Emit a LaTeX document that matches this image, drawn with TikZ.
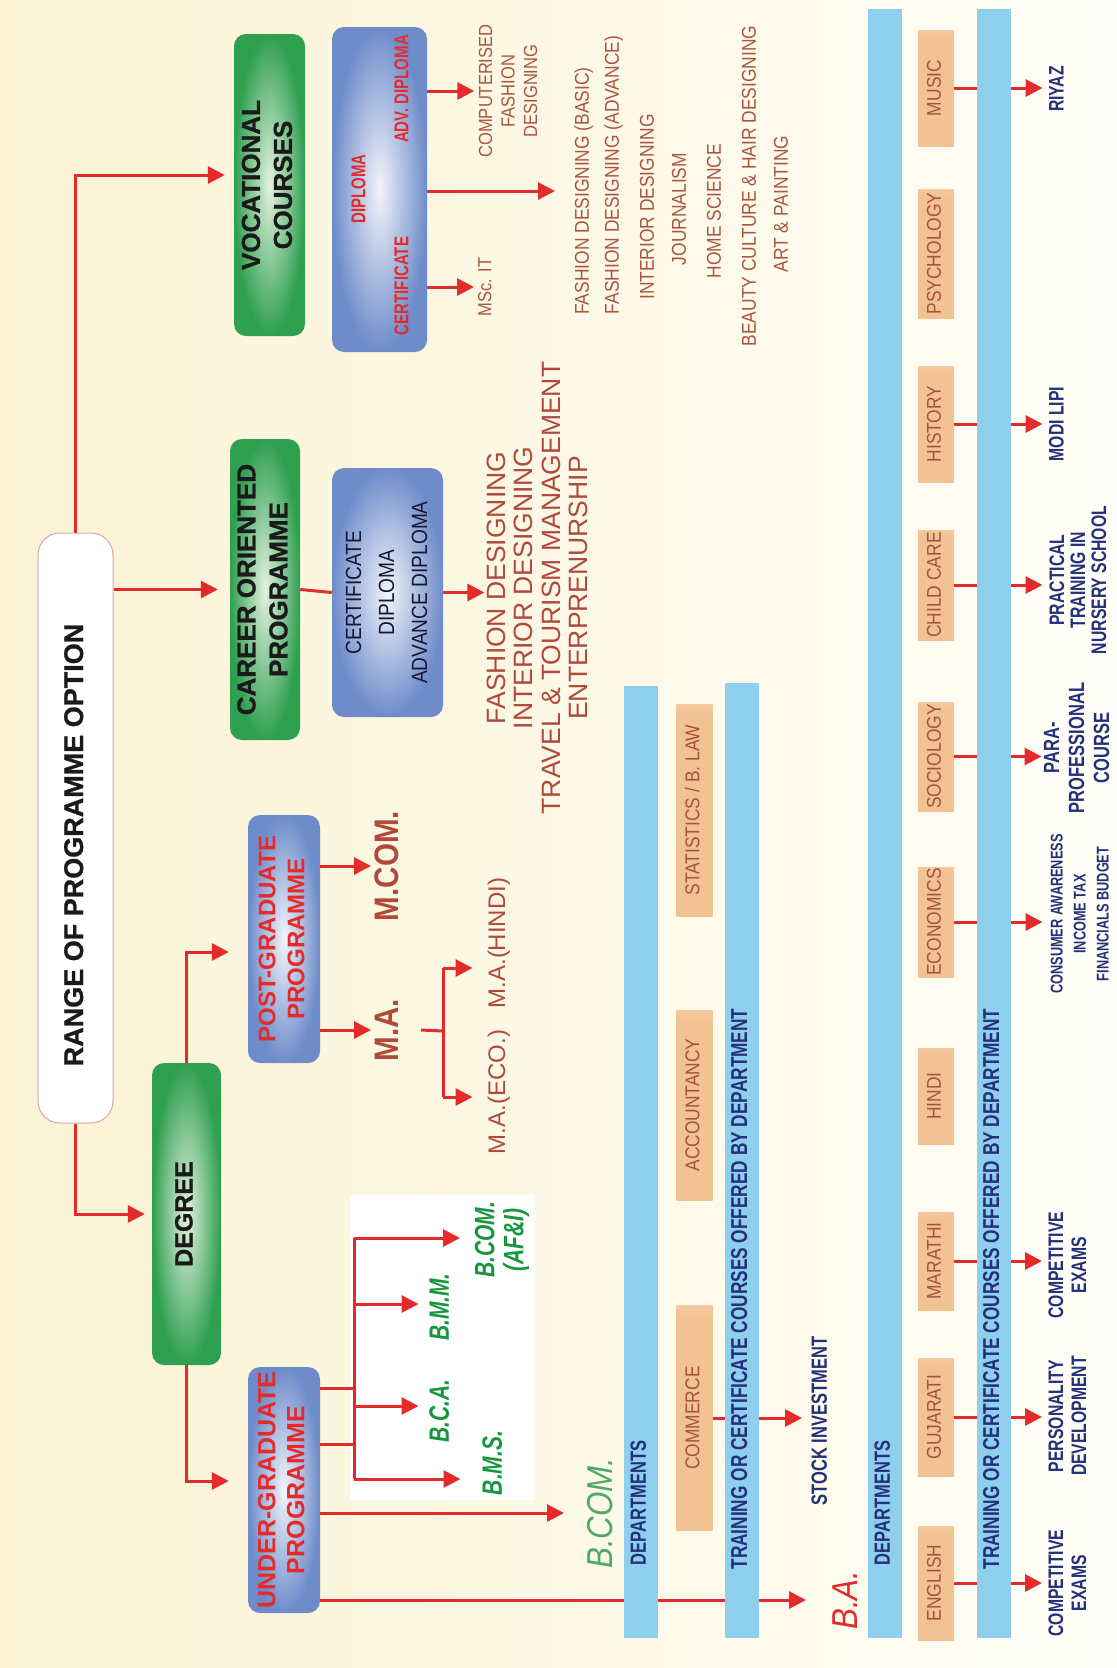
\documentclass[tikz,border=0pt]{standalone}
\usepackage{graphicx}
\usepackage{fontspec}
\setmainfont{Liberation Sans}
\newfontfamily\semi[FakeStretch=0.87]{Liberation Sans}
\newfontfamily\cond[FakeStretch=0.75]{Liberation Sans}
\newfontfamily\heavy[FakeBold=1]{Liberation Sans}
\usetikzlibrary{arrows.meta}
\definecolor{redc}{HTML}{E42A2A}
\definecolor{greenout}{HTML}{2F9F50}
\definecolor{greenin}{HTML}{E4F2E0}
\definecolor{blueout}{HTML}{6E8CCA}
\definecolor{bluein}{HTML}{F2F4FA}
\definecolor{barc}{HTML}{8ECFEE}
\definecolor{peachc}{HTML}{F2C292}
\definecolor{peachtxt}{HTML}{A5523F}
\definecolor{brownc}{HTML}{B0493C}
\definecolor{brown2}{HTML}{A9553F}
\definecolor{navy}{HTML}{24307A}
\definecolor{gtxt}{HTML}{17963D}
\definecolor{gbcom}{HTML}{4FA865}
\definecolor{blk}{HTML}{1A1A1A}
\definecolor{bgl}{HTML}{FBF3D4}
\definecolor{bgr}{HTML}{FFFEF8}
\definecolor{rangeb}{HTML}{E3A3A3}
\pgfdeclareverticalshading{peachfade}{100bp}{color(0bp)=(peachc); color(72bp)=(peachc); color(100bp)=(white)}
\newcommand\fsz[2]{\fontsize{#1}{#2}\selectfont}
\newcommand\rt[1]{\rotatebox{90}{\begin{tabular}{@{}c@{}}#1\end{tabular}}}
\begin{document}
\begin{tikzpicture}[x=1pt,y=-1pt,
 arr/.style={draw=redc, line width=3pt, -{Triangle[length=17pt,width=17pt]}},
 ln/.style={draw=redc, line width=3pt},
 txt/.style={inner sep=0pt, outer sep=0pt},
 gbox/.style={rounded corners=12pt, inner color=greenin, outer color=greenout, inner sep=0pt, text=blk, font=\heavy\bfseries\fsz{26}{32}},
 bbox/.style={rounded corners=12pt, inner color=bluein, outer color=blueout, inner sep=0pt},
 pbox/.style={shade, shading=peachfade, inner sep=0pt, minimum width=36pt, text=peachtxt, font=\semi\fsz{20}{24}},
 bar/.style={fill=barc, inner sep=0pt, minimum width=34pt},
 voclist/.style={txt, text=brown2, font=\semi\fsz{20}{24}},
 target/.style={txt, text=navy, font=\cond\bfseries\fsz{21}{23}},
 gitem/.style={txt, text=gtxt, font=\cond\bfseries\itshape\fsz{28}{29}},
]
% background
\shade[left color=bgl, right color=bgr] (0,0) rectangle (1116,1668);
\fill[white] (350,1195) rectangle (535,1500);

% main boxes
\node[draw=rangeb, line width=1pt, fill=white, rounded corners=22pt, minimum width=75pt, minimum height=590pt, inner sep=0pt] (range) at (75.5,828) {};
\node[txt, text=blk, font=\heavy\bfseries\fsz{27}{30}] (rangetxt) at (77,845) {\rt{RANGE OF PROGRAMME OPTION}};

\node[gbox, minimum width=71pt, minimum height=302pt] (voc) at (269.5,185) {\rt{VOCATIONAL\\COURSES}};
\node[bbox, minimum width=95pt, minimum height=325pt] (vblue) at (379.5,189.5) {};
\node[txt, text=redc, font=\cond\bfseries\fsz{20}{22}] (advd) at (404,89) {\rt{ADV. DIPLOMA}};
\node[txt, text=redc, font=\cond\bfseries\fsz{20}{22}] (dipl) at (361,189) {\rt{DIPLOMA}};
\node[txt, text=redc, font=\cond\bfseries\fsz{20}{22}] (cert) at (404,286) {\rt{CERTIFICATE}};

\node[gbox, minimum width=70pt, minimum height=301pt] (career) at (265,589.5) {\rt{CAREER ORIENTED\\PROGRAMME}};
\node[bbox, minimum width=111pt, minimum height=249pt, text=blk!90!blue, font=\semi\fsz{22}{33}] (cblue) at (387.5,592.5) {\rt{CERTIFICATE\\DIPLOMA\\ADVANCE DIPLOMA}};

\node[gbox, minimum width=69pt, minimum height=302pt, font=\heavy\bfseries\fsz{25}{30}] (degree) at (186.5,1214) {\rt{DEGREE}};
\node[bbox, minimum width=72pt, minimum height=248pt, text=redc, font=\bfseries\fsz{24}{29}] (pg) at (284,939) {\rt{POST-GRADUATE\\PROGRAMME}};
\node[bbox, minimum width=72pt, minimum height=246pt, text=redc, font=\bfseries\fsz{25}{29}] (ug) at (284,1490) {\rt{UNDER-GRADUATE\\PROGRAMME}};

% vocational outputs
\node[txt, text=brown2, font=\semi\fsz{19}{22.5}] (comp) at (510,91) {\rt{COMPUTERISED\\FASHION\\DESIGNING}};
\node[txt, text=brown2, font=\semi\fsz{19}{22}] (msc) at (487,287) {\rt{MSc. IT}};
\node[voclist] (fdb) at (584,191) {\rt{FASHION DESIGNING (BASIC)}};
\node[voclist] (fda) at (614,175) {\rt{FASHION DESIGNING (ADVANCE)}};
\node[voclist] (intd) at (649,207) {\rt{INTERIOR DESIGNING}};
\node[voclist] (jour) at (681,209) {\rt{JOURNALISM}};
\node[voclist] (home) at (716,211) {\rt{HOME SCIENCE}};
\node[voclist] (beauty) at (751,186) {\rt{BEAUTY CULTURE \& HAIR DESIGNING}};
\node[voclist] (art) at (783,204) {\rt{ART \& PAINTING}};

% career outputs
\node[txt, text=brownc, font=\fsz{26.5}{27.3}] (clist) at (541,588) {\rt{FASHION DESIGNING\\INTERIOR DESIGNING\\TRAVEL \& TOURISM MANAGEMENT\\ENTERPRENURSHIP}};

% post-graduate outputs
\node[txt, text=brownc, font=\semi\bfseries\fsz{34}{36}] (mcom) at (391,866) {\rt{M.COM.}};
\node[txt, text=brownc, font=\semi\bfseries\fsz{34}{36}] (ma) at (391,1030) {\rt{M.A.}};
\node[txt, text=brownc, font=\fsz{24}{25}] (mahindi) at (500,943) {\rt{M.A.(HINDI)}};
\node[txt, text=brownc, font=\fsz{24}{25}] (maeco) at (500,1092) {\rt{M.A.(ECO.)}};

% under-graduate outputs
\node[gitem] (bcomafi) at (503,1240) {\rt{B.COM.\\(AF\&I)}};
\node[gitem] (bmm) at (443,1307) {\rt{B.M.M.}};
\node[gitem] (bca) at (443,1411) {\rt{B.C.A.}};
\node[gitem] (bms) at (496,1463) {\rt{B.M.S.}};
\node[txt, text=gbcom, font=\semi\itshape\fsz{36}{40}] (bcom) at (604,1513) {\rt{B.COM.}};
\node[txt, text=redc, font=\semi\itshape\fsz{36}{40}] (ba) at (849,1600) {\rt{B.A.}};

% B.COM departments
\node[pbox, minimum height=212pt] (stat) at (694.5,810) {\rt{STATISTICS / B. LAW}};
\node[pbox, minimum height=190pt] (acc) at (694.5,1105) {\rt{ACCOUNTANCY}};
\node[pbox, minimum height=225pt] (com) at (694.5,1418) {\rt{COMMERCE}};
\node[txt, text=navy, font=\cond\bfseries\fsz{22}{24}] (stock) at (822,1421) {\rt{STOCK INVESTMENT}};

% B.A. departments
\node[pbox, minimum height=116pt] (music) at (936,88) {\rt{MUSIC}};
\node[pbox, minimum height=129pt] (psych) at (936,253.5) {\rt{PSYCHOLOGY}};
\node[pbox, minimum height=116pt] (hist) at (936,424) {\rt{HISTORY}};
\node[pbox, minimum height=110pt] (child) at (936,585) {\rt{CHILD CARE}};
\node[pbox, minimum height=109pt] (soc) at (936,756.5) {\rt{SOCIOLOGY}};
\node[pbox, minimum height=110pt] (econ) at (936,922) {\rt{ECONOMICS}};
\node[pbox, minimum height=96pt] (hindi) at (936,1096) {\rt{HINDI}};
\node[pbox, minimum height=98pt] (mar) at (936,1261) {\rt{MARATHI}};
\node[pbox, minimum height=118pt] (guj) at (936,1417) {\rt{GUJARATI}};
\node[pbox, minimum height=114pt] (eng) at (936,1583) {\rt{ENGLISH}};

% B.A. targets
\node[target] (riyaz) at (1059,89) {\rt{RIYAZ}};
\node[target] (modi) at (1059,424) {\rt{MODI LIPI}};
\node[target, font=\cond\bfseries\fsz{21}{21}] (prac) at (1081,580) {\rt{PRACTICAL\\TRAINING IN\\NURSERY SCHOOL}};
\node[target, font=\cond\bfseries\fsz{22}{25}] (para) at (1079,748) {\rt{PARA-\\PROFESSIONAL\\COURSE}};
\node[target, font=\cond\bfseries\fsz{17}{23}] (cons) at (1081,914) {\rt{CONSUMER AWARENESS\\INCOME TAX\\FINANCIALS BUDGET}};
\node[target] (comp1) at (1070,1265) {\rt{COMPETITIVE\\EXAMS}};
\node[target] (pers) at (1070,1416) {\rt{PERSONALITY\\DEVELOPMENT}};
\node[target] (comp2) at (1070,1583) {\rt{COMPETITIVE\\EXAMS}};

% coordinates for forks
\coordinate (f1) at (354,1238);
\coordinate (f2) at (354,1304);
\coordinate (f3) at (354,1406);
\coordinate (f4) at (354,1479);
\coordinate (fa) at (354,1388);
\coordinate (fb) at (354,1444);
\coordinate (mf) at (443,1031);
\coordinate (mh) at (443,968);
\coordinate (me) at (443,1097);

% connectors from range
\draw[arr, shorten >=9pt] (range.north) |- ([yshift=10pt]voc.west);
\draw[arr, shorten >=12pt] (range.east |- career.west) -- (career.west);
\draw[arr, shorten >=7pt] (range.south) |- (degree.west);
\draw[arr, shorten >=19pt] (degree.north) |- ([yshift=-13pt]pg.west);
\draw[arr, shorten >=19pt] (degree.south) |- ([yshift=9pt]ug.west);

% vocational
\draw[arr, shorten >=2pt] (vblue.east |- comp.west) -- (comp.west);
\draw[arr, shorten >=17pt] (vblue.east |- fdb.west) -- (fdb.west);
\draw[arr, shorten >=2pt] (vblue.east |- msc.west) -- (msc.west);

% career
\draw[ln] (career.east) -- (cblue.west);
\draw[arr, shorten >=2pt] (cblue.east) -- (cblue.east -| clist.west);

% post-graduate
\draw[arr, shorten >=2pt] (pg.east |- mcom.west) -- (mcom.west);
\draw[arr, shorten >=2pt] (pg.east |- ma.west) -- (ma.west);
\draw[ln] ([xshift=12pt]ma.east) -- (mf);
\draw[ln] (mh) -- (me);
\draw[arr, shorten >=15pt] (mh) -- (mh -| mahindi.west);
\draw[arr, shorten >=15pt] (me) -- (me -| maeco.west);

% under-graduate
\draw[ln] (ug.east |- fa) -- (fa);
\draw[ln] (ug.east |- fb) -- (fb);
\draw[ln] (f1) -- (f4);
\draw[arr, shorten >=14pt] (f1) -- (f1 -| bcomafi.west);
\draw[arr, shorten >=10pt] (f2) -- (f2 -| bmm.west);
\draw[arr, shorten >=10pt] (f3) -- (f3 -| bca.west);
\draw[arr, shorten >=21pt] (f4) -- (f4 -| bms.west);
\draw[arr, shorten >=20pt] (ug.east |- bcom.west) -- (bcom.west);
\draw[arr, shorten >=23pt] (ug.east |- ba.west) -- (ba.west);

% departments to targets
\draw[arr, shorten >=8pt] (com.east) -- (com.east -| stock.west);
\draw[arr, shorten >=5pt] (music.east) -- (music.east -| riyaz.west);
\draw[arr, shorten >=5pt] (hist.east) -- (hist.east -| modi.west);
\draw[arr, shorten >=7pt] (child.east) -- (child.east -| prac.west);
\draw[arr, shorten >=0pt] (soc.east) -- (soc.east -| para.west);
\draw[arr, shorten >=4pt] (econ.east) -- (econ.east -| cons.west);
\draw[arr, shorten >=5pt] (mar.east) -- (mar.east -| comp1.west);
\draw[arr, shorten >=5pt] (guj.east) -- (guj.east -| pers.west);
\draw[arr, shorten >=5pt] (eng.east) -- (eng.east -| comp2.west);

% bars (drawn over the connectors)
\node[bar, minimum height=952pt] (bar1) at (641,1162) {};
\node[bar, minimum height=955pt] (bar2) at (742,1160.5) {};
\node[bar, minimum height=1629pt] (bar3) at (885,823.5) {};
\node[bar, minimum height=1629pt] (bar4) at (994,823.5) {};
\node[txt, text=navy, font=\cond\bfseries\fsz{22}{24}] (dep1) at (641,1503) {\rt{DEPARTMENTS}};
\node[txt, text=navy, font=\cond\bfseries\fsz{23}{25}] (tr1) at (742,1289) {\rt{TRAINING OR CERTIFICATE COURSES OFFERED BY DEPARTMENT}};
\node[txt, text=navy, font=\cond\bfseries\fsz{22}{24}] (dep2) at (885,1503) {\rt{DEPARTMENTS}};
\node[txt, text=navy, font=\cond\bfseries\fsz{23}{25}] (tr2) at (994,1289) {\rt{TRAINING OR CERTIFICATE COURSES OFFERED BY DEPARTMENT}};
\end{tikzpicture}
\end{document}
